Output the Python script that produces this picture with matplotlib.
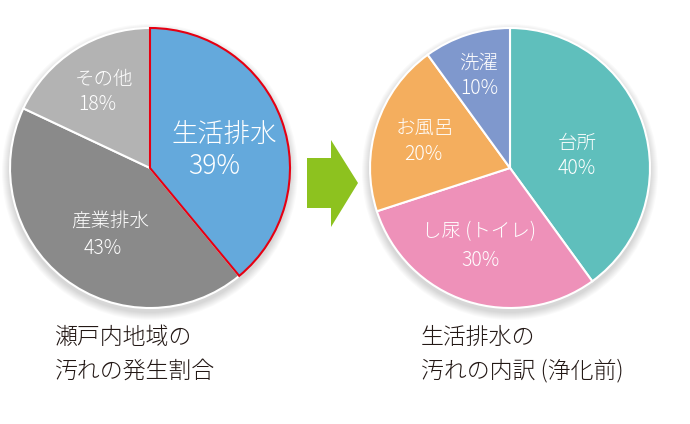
import matplotlib
matplotlib.use("Agg")
import matplotlib.pyplot as plt
from matplotlib.patches import Polygon, Circle

plt.rcParams["font.family"] = ["Noto Sans CJK JP", "DejaVu Sans"]

# left pie: sources of pollution in the Seto Inland Sea area
left_labels = ["生活排水", "産業排水", "その他"]
left_values = [39, 43, 18]
left_colors = ["#64a9dc", "#8a8a8a", "#b3b3b3"]

# right pie: breakdown of household waste water
right_labels = ["台所", "し尿 (トイレ)", "お風呂", "洗濯"]
right_values = [40, 30, 20, 10]
right_colors = ["#5fbfbc", "#ee91b9", "#f4ae5e", "#7f98cd"]

W, H = 690, 424
fig = plt.figure(figsize=(W / 100, H / 100), dpi=100)
ax = fig.add_axes([0, 0, 1, 1])

R = 140
lc = (150, H - 168)
rc = (510, H - 168)

# soft shadow under each pie
for c in (lc, rc):
    for i in range(8):
        ax.add_patch(Circle((c[0], c[1] - 4), R + 8 - i, color="black",
                            alpha=0.018, lw=0, zorder=1))

wl, _ = ax.pie(left_values, colors=left_colors, startangle=90, counterclock=False,
               center=lc, radius=R, frame=True,
               wedgeprops=dict(edgecolor="white", linewidth=1.5))
for w in wl:
    w.set_zorder(2)
wl[0].set_edgecolor("#e60012")
wl[0].set_zorder(3)

wr, _ = ax.pie(right_values, colors=right_colors, startangle=90, counterclock=False,
               center=rc, radius=R, frame=True,
               wedgeprops=dict(edgecolor="white", linewidth=1.5))
for w in wr:
    w.set_zorder(2)

ax.set_xlim(0, W)
ax.set_ylim(0, H)
ax.set_aspect("equal")
ax.axis("off")

def lab(x, y, s, size):
    ax.text(x, H - y, s, color="white", fontsize=size, fontweight="light",
            ha="center", va="center", zorder=5)

# left pie labels
lab(224, 135, left_labels[0], 19)
lab(214, 166, f"{left_values[0]}%", 19)
lab(110, 222, left_labels[1], 14)
lab(103, 249, f"{left_values[1]}%", 14)
lab(104, 80, left_labels[2], 14)
lab(97, 105, f"{left_values[2]}%", 14)

# right pie labels
lab(577, 143, right_labels[0], 14)
lab(577, 169, f"{right_values[0]}%", 14)
lab(479, 232, right_labels[1], 14)
lab(480, 260, f"{right_values[1]}%", 14)
lab(425, 128, right_labels[2], 14)
lab(423, 154, f"{right_values[2]}%", 14)
lab(479, 63, right_labels[3], 14)
lab(479, 89, f"{right_values[3]}%", 14)

# green arrow
arrow = [(307, 158), (331, 158), (331, 140), (358, 183), (331, 227), (331, 208), (307, 208)]
ax.add_patch(Polygon([(x, H - y) for x, y in arrow], closed=True,
                     color="#8dc21f", lw=0, zorder=4))

# captions
cap = dict(color="#231815", fontsize=16.5, fontweight="light", ha="left", va="center")
ax.text(55, H - 337, "瀬戸内地域の", **cap)
ax.text(55, H - 371, "汚れの発生割合", **cap)
ax.text(421, H - 337, "生活排水の", **cap)
ax.text(421, H - 371, "汚れの内訳 (浄化前)", **cap)

fig.savefig("out.png", dpi=100)
